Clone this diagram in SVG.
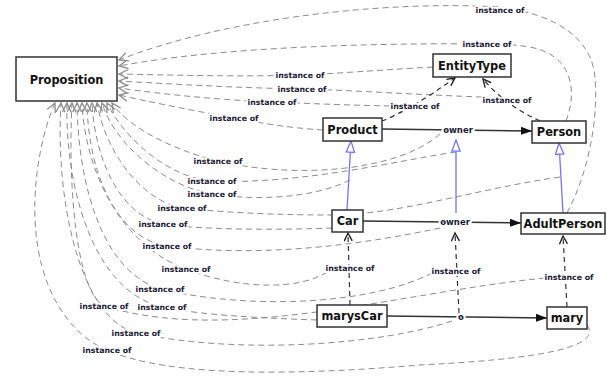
<svg xmlns="http://www.w3.org/2000/svg" width="607" height="379" viewBox="0 0 607 379">
<style>
.node rect{fill:#fff;stroke:#333;stroke-width:1.5}
.node text{font-family:"DejaVu Sans",Verdana,sans-serif;font-weight:bold;font-size:11.4px;fill:#111;text-anchor:middle}
.prop{fill:none;stroke:#8c8c8c;stroke-width:1;stroke-dasharray:6 4;marker-end:url(#openGray)}
.inst{fill:none;stroke:#333;stroke-width:1.2;stroke-dasharray:5 4;marker-end:url(#openDark)}
.assoc{fill:none;stroke:#333;stroke-width:1.5;marker-end:url(#filled)}
.isa{fill:none;stroke:#7373ff;stroke-width:1.3;marker-end:url(#hollow)}
.lb{font-family:"DejaVu Sans",Verdana,sans-serif;font-weight:bold;font-size:7.8px;fill:#1a1a33;text-anchor:middle;paint-order:stroke;stroke:#fff;stroke-width:4;stroke-linejoin:round}
.ow{font-size:8.5px}
</style>
<defs>
<marker id="openGray" markerUnits="userSpaceOnUse" markerWidth="13" markerHeight="12" refX="10" refY="5" orient="auto"><path d="M1,0.6 L10,5 L1,9.4" fill="none" stroke="#8c8c8c" stroke-width="1.3"/></marker>
<marker id="openDark" markerUnits="userSpaceOnUse" markerWidth="12" markerHeight="12" refX="9" refY="4.5" orient="auto"><path d="M1,0.5 L9,4.5 L1,8.5" fill="none" stroke="#222" stroke-width="1.4"/></marker>
<marker id="filled" markerUnits="userSpaceOnUse" markerWidth="12" markerHeight="10" refX="11" refY="4.5" orient="auto"><path d="M0,0.5 L11,4.5 L0,8.5 z" fill="#111"/></marker>
<marker id="hollow" markerUnits="userSpaceOnUse" markerWidth="14" markerHeight="12" refX="12" refY="5" orient="auto"><path d="M0.8,0.8 L12,5 L0.8,9.2 z" fill="#fff" stroke="#7373ff" stroke-width="1.3"/></marker>
</defs>
<rect width="607" height="379" fill="#fff"/>
<g id="connectors">
<path class="prop" d="M567,213 C590,170 600,110 594,70 C588,40 560,15 500,7 C380,0 220,20 119,60"/>
<path class="prop" d="M566,121 C578,90 572,55 530,47 C510,44 500,44 487,44 C400,43 230,45 119,66"/>
<path class="prop" d="M433,67 C380,70 330,74 300,75 C240,77 170,75 119,74"/>
<path class="prop" d="M482,97 C420,95 350,90 302,89 C240,88 170,84 119,81"/>
<path class="prop" d="M390,106 C340,105 300,103 272,102 C220,100 160,94 119,88"/>
<path class="prop" d="M323,130 C290,128 260,123 234,118 C190,110 150,102 119,95"/>
<path class="prop" d="M440,134 C400,170 300,180 218,161 C180,152 130,130 112,103"/>
<path class="prop" d="M456,152 C400,160 300,185 212,181 C170,178 125,140 107,103"/>
<path class="prop" d="M350,180 C310,200 250,200 212,194 C165,186 115,145 102,103"/>
<path class="prop" d="M560,177 C470,190 400,215 330,215 C270,215 220,212 182,208 C140,200 105,150 97,103"/>
<path class="prop" d="M332,228 C280,230 200,230 163,224 C120,215 95,160 92,103"/>
<path class="prop" d="M440,228 C360,245 260,258 167,246 C115,238 88,170 87,103"/>
<path class="prop" d="M327,272 C300,290 240,290 186,269 C120,245 85,170 82,103"/>
<path class="prop" d="M432,273 C370,305 250,310 160,289 C100,270 78,180 77,103"/>
<path class="prop" d="M545,278 C400,292 230,345 104,306 C75,290 68,180 72,103"/>
<path class="prop" d="M317,320 C260,318 200,315 162,307 C90,290 65,180 67,103"/>
<path class="prop" d="M452,321 C380,345 240,355 136,333 C80,318 55,200 61,103"/>
<path class="prop" d="M587,325 C605,350 520,360 420,365 C300,375 170,378 107,350 C70,335 38,290 35,220 C33,170 45,125 55,103"/>
<path class="inst" d="M382,121 Q410,110 455,78"/>
<path class="inst" d="M540,121 Q505,105 483,79"/>
<path class="inst" d="M350,305 L348,233"/>
<path class="inst" d="M459,313 L455,233"/>
<path class="inst" d="M567,307 L563,236"/>
<path class="assoc" d="M382,129 L532,131"/>
<path class="assoc" d="M363,221 L521,223"/>
<path class="assoc" d="M387,316 L547,318"/>
<path class="isa" d="M347,210 L351,141"/>
<path class="isa" d="M563,213 L559,143"/>
<path class="isa" d="M456,213 L456,140"/>
<text class="lb" x="500" y="13">instance of</text>
<text class="lb" x="487" y="47">instance of</text>
<text class="lb" x="300" y="78">instance of</text>
<text class="lb" x="302" y="92">instance of</text>
<text class="lb" x="272" y="105">instance of</text>
<text class="lb" x="234" y="121">instance of</text>
<text class="lb" x="415" y="109">instance of</text>
<text class="lb" x="507" y="103">instance of</text>
<text class="lb" x="218" y="164">instance of</text>
<text class="lb" x="212" y="184">instance of</text>
<text class="lb" x="212" y="197">instance of</text>
<text class="lb" x="182" y="211">instance of</text>
<text class="lb" x="163" y="227">instance of</text>
<text class="lb" x="167" y="249">instance of</text>
<text class="lb" x="186" y="272">instance of</text>
<text class="lb" x="160" y="292">instance of</text>
<text class="lb" x="104" y="309">instance of</text>
<text class="lb" x="162" y="310">instance of</text>
<text class="lb" x="136" y="336">instance of</text>
<text class="lb" x="107" y="353">instance of</text>
<text class="lb" x="350" y="271">instance of</text>
<text class="lb" x="456" y="274">instance of</text>
<text class="lb" x="569" y="280">instance of</text>
<text class="lb ow" x="458" y="133">owner</text>
<text class="lb ow" x="455" y="225">owner</text>
<text class="lb ow" x="461" y="320">o</text>
</g>
<g id="Proposition" class="node"><rect x="16" y="57" width="101" height="44"/><text x="66.5" y="83.5">Proposition</text></g>
<g id="EntityType" class="node"><rect x="433" y="54" width="78" height="23"/><text x="472" y="69.5">EntityType</text></g>
<g id="Product" class="node"><rect x="323" y="118" width="59" height="23"/><text x="352.5" y="133.5">Product</text></g>
<g id="Person" class="node"><rect x="532" y="121" width="54" height="22"/><text x="559" y="136">Person</text></g>
<g id="Car" class="node"><rect x="332" y="210" width="31" height="22"/><text x="347.5" y="225">Car</text></g>
<g id="AdultPerson" class="node"><rect x="521" y="213" width="84" height="21"/><text x="563" y="227.5">AdultPerson</text></g>
<g id="marysCar" class="node"><rect x="317" y="305" width="70" height="22"/><text x="352" y="320">marysCar</text></g>
<g id="mary" class="node"><rect x="547" y="307" width="40" height="22"/><text x="567" y="322">mary</text></g>
</svg>
